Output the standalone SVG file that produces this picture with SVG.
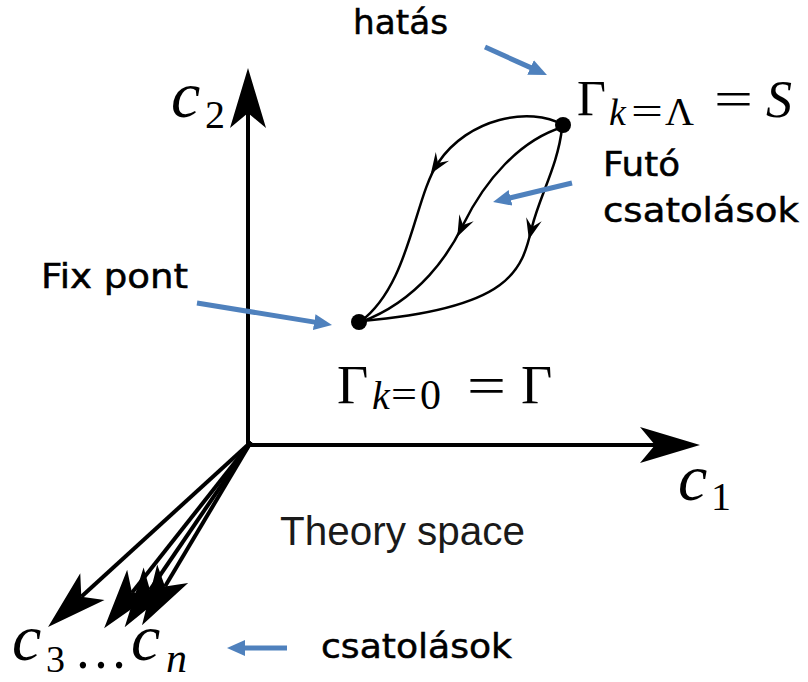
<svg xmlns="http://www.w3.org/2000/svg" width="808" height="682" viewBox="0 0 808 682">
<style>
.ax{stroke:#000;stroke-width:4;fill:none}
.flow{stroke:#000;stroke-width:2.5;fill:none}
.blue{stroke:#4f81bd;stroke-width:5;fill:none}
.hu{font-family:"DejaVu Sans",sans-serif;font-size:33px;fill:#000;stroke:#000;stroke-width:0.5}
.m{font-family:"Liberation Serif",serif;fill:#000}
.i{font-style:italic}
.ts{font-family:"Liberation Sans",Arial,sans-serif;font-size:40px;fill:#1a1a1a}
</style>
<defs>
<marker id="big" markerUnits="userSpaceOnUse" markerWidth="80" markerHeight="50" refX="20" refY="25" orient="auto" viewBox="0 0 80 50">
<path d="M65,25 L5,7 L20,25 L5,43 Z" fill="#000"/>
</marker>
<marker id="small" markerUnits="userSpaceOnUse" markerWidth="30" markerHeight="20" refX="10" refY="10" orient="auto" viewBox="0 0 30 20">
<path d="M23,10 L2,2 L10,10 L2,18 Z" fill="#000"/>
</marker>
<marker id="bl" markerUnits="userSpaceOnUse" markerWidth="24" markerHeight="20" refX="2" refY="10" orient="auto" viewBox="0 0 24 20">
<path d="M0,2 L18,10 L0,18 Z" fill="#4f81bd"/>
</marker>
</defs>

<g id="connectors">
<path class="ax" d="M248,447 L248,113" marker-end="url(#big)"/>
<path class="ax" d="M246,445 L655,445" marker-end="url(#big)"/>
<path class="ax" d="M251,442 L81.3,596.7" marker-end="url(#big)"/>
<path class="ax" d="M251,442 L132,592.8" marker-end="url(#big)"/>
<path class="ax" d="M251,442 L150,590" marker-end="url(#big)"/>
<path class="ax" d="M251,442 L165,586.6" marker-end="url(#big)"/>

<path class="flow" d="M563,125 C530,106 468,118 438,163" marker-end="url(#small)"/>
<path class="flow" d="M438,163 C414,198 410,285 360,322"/>
<path class="flow" d="M563,127 C520,140 485,180 463,225" marker-end="url(#small)"/>
<path class="flow" d="M463,225 C450,252 420,300 361,322"/>
<path class="flow" d="M562,128 C558,165 540,195 532,227" marker-end="url(#small)"/>
<path class="flow" d="M532,227 C522,270 512,308 362,321"/>

<path class="blue" d="M485,47 L532.4,68.4" marker-end="url(#bl)"/>
<path class="blue" d="M197,303 L316.2,322.4" marker-end="url(#bl)"/>
<path class="blue" d="M572,183 L508.6,198.3" marker-end="url(#bl)"/>
<path class="blue" d="M287,648 L243,648" marker-end="url(#bl)"/>
</g>

<g id="node-S">
<circle cx="563" cy="125" r="8" fill="#000"/>
<text class="m" x="577" y="115" font-size="50">Γ</text>
<text class="m i" x="609" y="125" font-size="38">k</text>
<text class="m" x="631" y="124" font-size="38" textLength="32" lengthAdjust="spacingAndGlyphs">=</text>
<text class="m" x="665" y="125" font-size="40">Λ</text>
<text class="m" x="714" y="116" font-size="50" textLength="39" lengthAdjust="spacingAndGlyphs">=</text>
<text class="m i" x="766" y="117" font-size="52">S</text>
</g>

<g id="node-Gamma">
<circle cx="359" cy="322" r="8" fill="#000"/>
<text class="m" x="337" y="403" font-size="54">Γ</text>
<text class="m i" x="372" y="409" font-size="40">k</text>
<text class="m" x="391" y="408" font-size="40" textLength="26" lengthAdjust="spacingAndGlyphs">=</text>
<text class="m" x="420" y="409" font-size="42">0</text>
<text class="m" x="467" y="404" font-size="54" textLength="39" lengthAdjust="spacingAndGlyphs">=</text>
<text class="m" x="521" y="403" font-size="54">Γ</text>
</g>

<g id="axis-labels">
<text class="m i" x="171" y="117" font-size="66">c</text>
<text class="m" x="205" y="128" font-size="40">2</text>
<text class="m i" x="678" y="500" font-size="66">c</text>
<text class="m" x="711" y="510" font-size="40">1</text>
<text class="m i" x="12" y="660" font-size="66">c</text>
<text class="m" x="46" y="672" font-size="38">3</text>
<text class="m" x="74" y="668" font-size="56" textLength="54" lengthAdjust="spacingAndGlyphs">…</text>
<text class="m i" x="131" y="660" font-size="66">c</text>
<text class="m i" x="166" y="672" font-size="42">n</text>
<text class="ts" x="280" y="545" textLength="245" lengthAdjust="spacingAndGlyphs">Theory space</text>
</g>

<g id="annotations">
<text class="hu" x="353" y="34" textLength="95" lengthAdjust="spacingAndGlyphs">hatás</text>
<text class="hu" x="603" y="176" font-size="34" textLength="77" lengthAdjust="spacingAndGlyphs">Futó</text>
<text class="hu" x="603" y="222" font-size="34" textLength="196" lengthAdjust="spacingAndGlyphs">csatolások</text>
<text class="hu" x="41" y="288" font-size="35" textLength="147" lengthAdjust="spacingAndGlyphs">Fix pont</text>
<text class="hu" x="321" y="658" font-size="34" textLength="191" lengthAdjust="spacingAndGlyphs">csatolások</text>
</g>
</svg>
